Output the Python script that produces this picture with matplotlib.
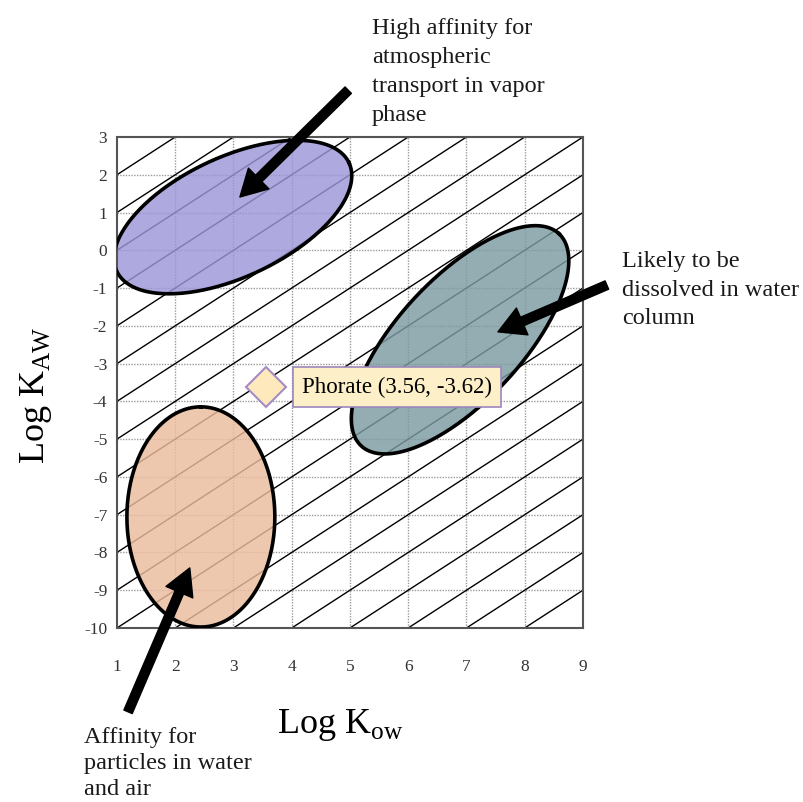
import numpy as np
import matplotlib.pyplot as plt

plt.rcParams['font.family'] = ['Liberation Serif', 'DejaVu Serif']
plt.rcParams['mathtext.fontset'] = 'custom'
plt.rcParams['mathtext.rm'] = 'Liberation Serif'
plt.rcParams['axes.unicode_minus'] = False

# axis ranges and ticks
x_ticks = [1, 2, 3, 4, 5, 6, 7, 8, 9]
y_ticks = [3, 2, 1, 0, -1, -2, -3, -4, -5, -6, -7, -8, -9, -10]

# lines of constant log Koa: log Kaw = log Kow + c
koa_offsets = [1, 0, -1, -2, -3, -4, -5, -6, -7, -8, -9, -10, -11, -12,
               -13, -14, -15, -16, -17, -18]

# regions: center (kow, kaw), semi axes (in kow units, on screen), screen angle
region_centers = [(2.99, 0.88), (6.89, -2.37), (2.44, -7.06)]
region_axes = [(2.20, 1.03), (2.49, 1.06), (1.89, 1.27)]
region_angles = [25, 47, 90]
region_colors = ['#9c97d8', '#7c9ba1', '#ebbc9d']

# phorate
phorate_kow = 3.56
phorate_kaw = -3.62
phorate_label = 'Phorate (3.56, -3.62)'

notes = ['High affinity for\natmospheric\ntransport in vapor\nphase',
         'Likely to be\ndissolved in water\ncolumn',
         'Affinity for\nparticles in water\nand air']
note_pos = [(5.38, 6.15), (9.67, -0.03), (0.43, -12.62)]
note_spacing = [1.5, 1.47, 1.3]
arrow_tails = [(4.97, 4.24), (9.41, -0.92), (1.19, -12.22)]
arrow_tips = [(3.11, 1.41), (7.54, -2.16), (2.25, -8.41)]

fig = plt.figure(figsize=(8.04, 8.02), dpi=100)
ax = fig.add_axes([0.1455, 0.217, 0.5796, 0.6122])
ax.set_xlim(1, 9)
ax.set_ylim(-10, 3)

# grid
for xv in x_ticks[1:-1]:
    ax.axvline(xv, color='#9a9a9a', lw=1, ls=(0, (1, 1)), zorder=1)
for yv in y_ticks[1:-1]:
    ax.axhline(yv, color='#9a9a9a', lw=1, ls=(0, (1, 1)), zorder=1)

xs = np.array([0.0, 10.0])
for c in koa_offsets:
    ax.plot(xs, xs + c, color='black', lw=1, zorder=1.5)

# screen ratio: one kow unit on screen expressed in kaw units
bb = ax.get_position()
px_x = bb.width * fig.get_figwidth() / 8
px_y = bb.height * fig.get_figheight() / 13
ratio = px_x / px_y

t = np.linspace(0, 2 * np.pi, 300)
for (cx, cy), (a, b), ang, col in zip(region_centers, region_axes,
                                      region_angles, region_colors):
    th = np.deg2rad(ang)
    u = a * np.cos(t)
    v = b * np.sin(t)
    ex = cx + u * np.cos(th) - v * np.sin(th)
    ey = cy + (u * np.sin(th) + v * np.cos(th)) * ratio
    ax.fill(ex, ey, color=col, alpha=0.82, lw=0, zorder=2)
    ax.plot(ex, ey, color='black', lw=2.6, zorder=3)

ax.plot(phorate_kow, phorate_kaw, marker='D', ms=20, mfc='#fde9bb',
        mec='#a48cc4', mew=1.5, zorder=5)
ax.text(4.18, phorate_kaw, phorate_label, fontsize=16.5, ha='left',
        va='center', zorder=6,
        bbox=dict(boxstyle='square,pad=0.4', fc='#fdefc8', ec='#9c88bb',
                  lw=1.2))

for txt, (tx, ty), ls in zip(notes, note_pos, note_spacing):
    ax.text(tx, ty, txt, fontsize=17.5, ha='left', va='top', linespacing=ls,
            color='#1a1a1a', clip_on=False)

for tail, tip in zip(arrow_tails, arrow_tips):
    ax.annotate('', xy=tip, xytext=tail, annotation_clip=False,
                arrowprops=dict(facecolor='black', edgecolor='black',
                                width=6.5, headwidth=21, headlength=19,
                                shrink=0), zorder=7)

ax.set_xticks(x_ticks)
ax.set_yticks(y_ticks)
ax.tick_params(length=0, labelsize=12.5, labelcolor='#333333')
ax.tick_params(axis='x', pad=22)
ax.tick_params(axis='y', pad=7)
for s in ax.spines.values():
    s.set_color('#555555')
    s.set_linewidth(1.5)

ax.set_xlabel('Log K$_{\\mathregular{ow}}$', fontsize=26)
ax.set_ylabel('Log K$_{\\mathregular{AW}}$', fontsize=26)
ax.xaxis.set_label_coords(0.479, -0.16)
ax.yaxis.set_label_coords(-0.135, 0.475)

fig.savefig('out.png', dpi=100)
